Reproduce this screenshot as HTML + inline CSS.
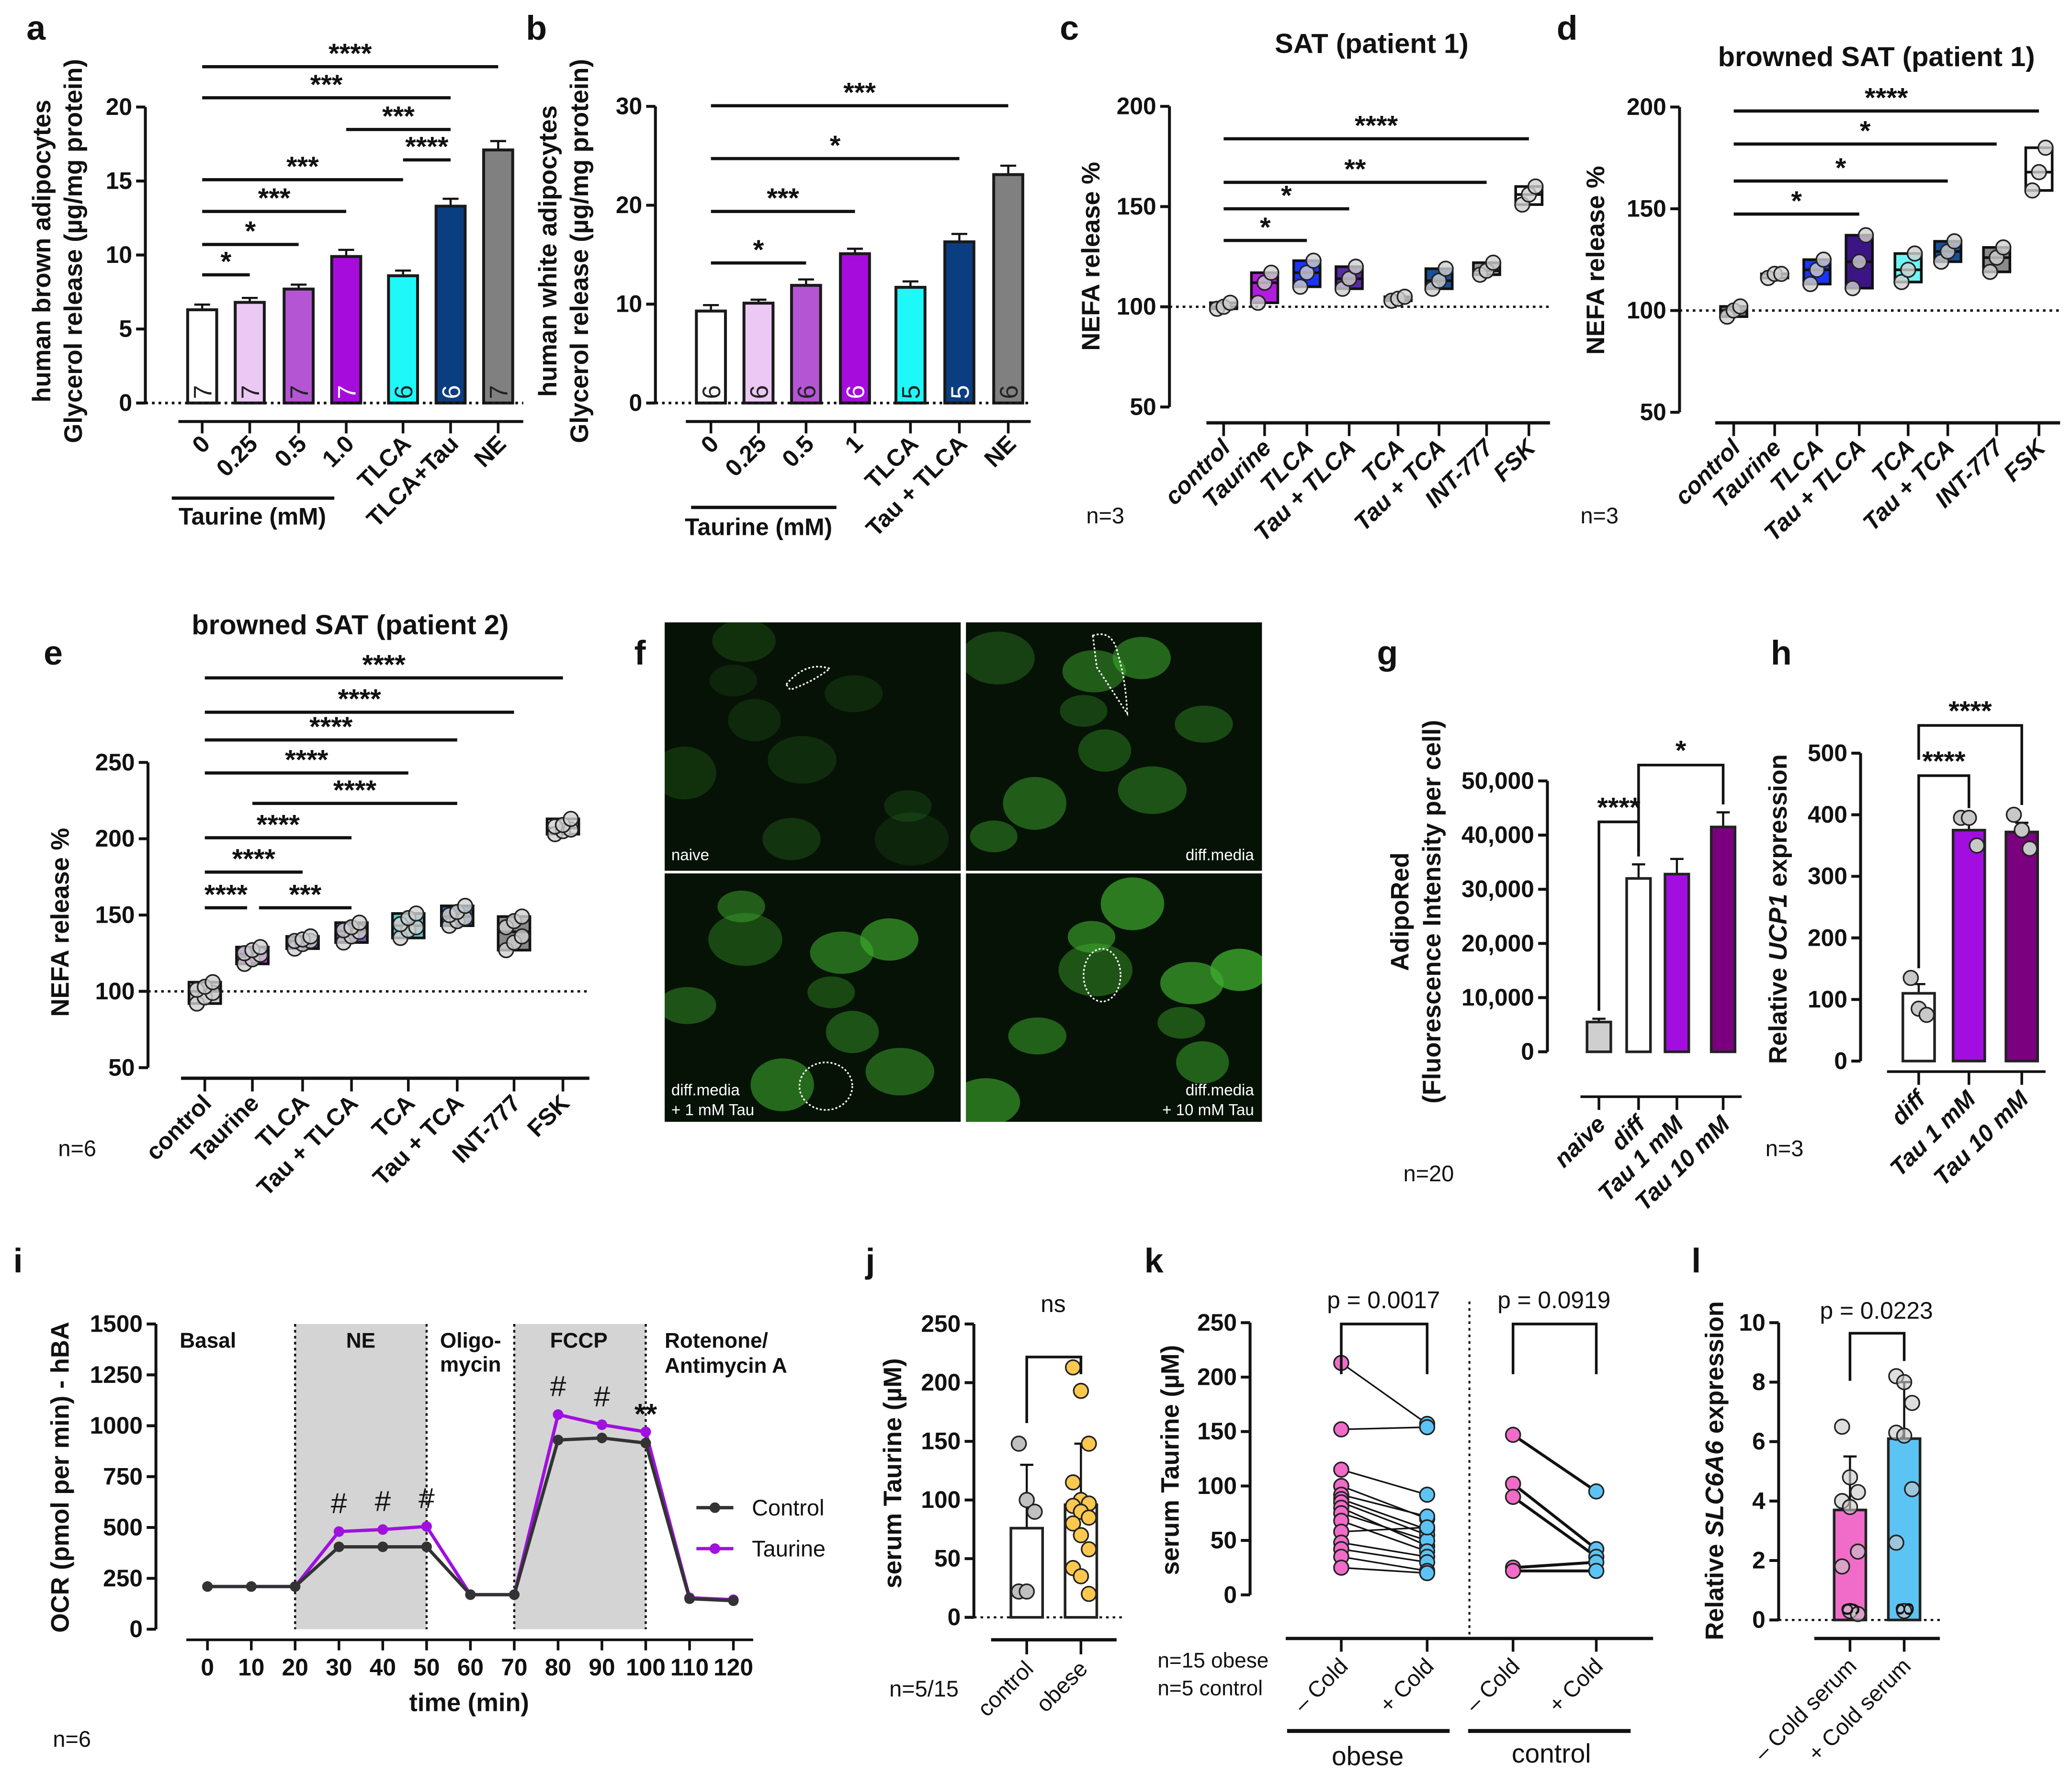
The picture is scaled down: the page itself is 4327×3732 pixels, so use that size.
<!DOCTYPE html>
<html><head><meta charset="utf-8">
<style>
html,body{margin:0;padding:0;background:#fff;}
svg{display:block;font-family:"Liberation Sans",Arial,sans-serif;}
</style></head>
<body>
<svg id="fig" xmlns="http://www.w3.org/2000/svg" width="4327" height="3732" viewBox="0 0 1568 1352.4" preserveAspectRatio="none">
<rect x="0" y="0" width="1568" height="1352.4" fill="#fff"/>
</svg>
<script>
// ---------- data ----------
const aCats=['0','0.25','0.5','1.0','TLCA','TLCA+Tau','NE'];
const aVals=[6.3,6.8,7.7,9.9,8.6,13.3,17.1];
const aErr=[0.35,0.3,0.3,0.45,0.35,0.5,0.6];
const aN=[7,7,7,7,6,6,7];
const aTicks=[0,5,10,15,20];
const bCats=['0','0.25','0.5','1','TLCA','Tau + TLCA','NE'];
const bVals=[9.3,10.1,11.9,15.1,11.7,16.3,23.1];
const bErr=[0.6,0.35,0.6,0.5,0.6,0.8,0.9];
const bN=[6,6,6,6,5,5,6];
const bTicks=[0,10,20,30];
const boxCats=['control','Taurine','TLCA','Tau + TLCA','TCA','Tau + TCA','INT-777','FSK'];
const cPts=[[99,100,102],[102,112,117],[110,117,123],[109,114,120],[103,104,105],[109,113,119],[116,118,122],[151,156,160]];
const dPts=[[97,100,102],[116,118,118],[113,120,125],[111,124,137],[114,120,128],[124,129,134],[119,126,131],[159,168,180]];
const ePts=[[92,96,99,101,103,106],[118,121,124,125,127,129],[128,131,133,133,134,136],[132,136,139,140,142,145],[135,140,142,144,148,151],[143,146,148,150,152,156],[127,132,136,142,146,149],[203,205,206,208,209,213]];
const boxTicks=[50,100,150,200];
const eTicks=[50,100,150,200,250];
const gCats=['naive','diff','Tau 1 mM','Tau 10 mM'];
const gVals=[5500,32000,32800,41500];
const gErr=[600,2600,2800,2700];
const gTicks=[0,10000,20000,30000,40000,50000];
const hCats=['diff','Tau 1 mM','Tau 10 mM'];
const hVals=[110,375,372];
const hErr=[15,15,15];
const hPts=[[135,85,75],[395,395,350],[400,375,345]];
const hTicks=[0,100,200,300,400,500];
const iTimes=[0,10,20,30,40,50,60,70,80,90,100,110,120];
const iControl=[210,210,210,405,405,405,170,170,930,940,915,150,140];
const iTaurine=[210,210,210,480,490,505,170,170,1055,1005,970,155,145];
const iTicks=[0,250,500,750,1000,1250,1500];
const jCats=['control','obese'];
const jVals=[76,96];
const jSD=[130,148];
const jCtrl=[148,100,90,22,22];
const jObese=[213,193,148,115,100,97,95,90,85,80,70,58,42,35,20];
const jTicks=[0,50,100,150,200,250];
const kObMinus=[213,152,115,100,92,88,85,80,75,68,58,48,42,35,25];
const kObPlus=[157,154,92,70,72,60,55,45,50,40,62,35,30,22,20];
const kCtMinus=[147,102,90,25,22];
const kCtPlus=[95,42,35,30,22];
const lCats=['\u2013 Cold serum','+ Cold serum'];
const lVals=[3.7,6.1];
const lSD=[5.5,8.0];
const lMinus=[6.5,4.8,4.3,4.0,3.8,2.3,1.8,0.3,0.2];
const lPlus=[8.2,8.0,7.3,6.3,6.2,4.4,2.6,0.3];
const lTicks=[0,2,4,6,8,10];

// ---------- helpers ----------
const NS='http://www.w3.org/2000/svg';
const svg=document.getElementById('fig');
function mk(tag,attrs,name,parent){
  const e=document.createElementNS(NS,tag);
  for(const k in attrs) e.setAttribute(k,attrs[k]);
  
  
  (parent||svg).appendChild(e);
  return e;
}
function T(x,y,s,o,name){o=o||{};
  const at={x:x,y:y,'font-size':o.s||15,'font-weight':o.w||'bold','text-anchor':o.a||'start',fill:o.f||'#111'};
  if(o.rot!==undefined) at.transform='rotate('+o.rot+' '+x+' '+y+')';
  if(o.it) at['font-style']='italic';
  const e=mk('text',at,name||'label');e.textContent=s;return e;}
function L(x1,y1,x2,y2,o,name){o=o||{};
  const at={x1:x1,y1:y1,x2:x2,y2:y2,stroke:o.c||'#111','stroke-width':o.w||2};
  if(o.d) at['stroke-dasharray']=o.d;
  return mk('line',at,name||'line');}
function lin(d0,d1,r0,r1){return v=>r0+(v-d0)*(r1-r0)/(d1-d0);}
function yAxis(x,sc,ticks,fmt,name,fs){
  L(x,sc(ticks[0]),x,sc(ticks[ticks.length-1]),{w:2.2},name+'-line');
  ticks.forEach(t=>{L(x-7,sc(t),x,sc(t),{w:2.2},name+'-tick');T(x-10,sc(t)+6,fmt?fmt(t):String(t),{a:'end',s:fs||18},name+'-tick-label');});
}
function sig(x1,x2,y,s,name){L(x1,y,x2,y,{w:2.4},name+'-line');T((x1+x2)/2,y-3,s,{a:'middle',s:21},name+'-label');}
function letter(x,y,s){T(x,y,s,{s:26},'panel-'+s+'-letter');}

// ---------- panel a & b (bar charts) ----------
function barPanel(p){
  const ys=lin(0,p.ticks[p.ticks.length-1],p.y0,p.yTop);
  yAxis(p.ax,ys,p.ticks,null,p.id+'-y-axis');
  L(p.xl0,p.xly,p.xl1,p.xly,{w:2.2},p.id+'-x-axis');
  p.vals.forEach((v,i)=>{
    const cx=p.cx[i];
    L(cx,p.xly,cx,p.xly+9,{w:2},p.id+'-x-tick');
    L(cx,ys(v),cx,ys(v+p.err[i]),{w:1.6},p.id+'-error-bar');
    L(cx-6,ys(v+p.err[i]),cx+6,ys(v+p.err[i]),{w:1.6},p.id+'-error-cap');
    mk('rect',{x:cx-11,y:ys(v),width:22,height:ys(0)-ys(v),fill:p.colors[i],stroke:'#1a1a1a','stroke-width':2.2},p.id+'-bar-'+i);
    T(cx+7,ys(0)-3,String(p.n[i]),{s:19,w:'normal',f:p.nc[i],rot:-90},p.id+'-n-label');
    T(cx+7,p.xly+18,p.cats[i],{a:'end',s:18,rot:-45},p.id+'-x-label');
  });
  L(p.ax,ys(0),p.xl1,ys(0),{w:2,d:'2,3'},p.id+'-baseline');
  return ys;
}
letter(20,30,'a');
const cxA=[153,189,226,262,305,341,377];
barPanel({id:'a',ticks:aTicks,y0:305,yTop:81,ax:110,xl0:135,xl1:396,xly:319,vals:aVals,err:aErr,n:aN,cats:aCats,cx:cxA,
 colors:['#fff','#ecc8f4','#b455d4','#a60ddd','#1ff8f8','#0b3e80','#808080'],nc:['#222','#222','#222','#fff','#222','#fff','#222']});
T(38,190,'human brown adipocytes',{s:19,rot:-90,a:'middle'},'a-y-title-1');
T(62,190,'Glycerol release (µg/mg protein)',{s:19,rot:-90,a:'middle'},'a-y-title-2');
L(130,377,253,377,{w:2.5},'a-taurine-group-line');T(191,397,'Taurine (mM)',{s:18,a:'middle'},'a-taurine-group-label');
sig(153,377,50.5,'****','a-sig');sig(153,341,74,'***','a-sig');sig(262,341,98,'***','a-sig');sig(305,341,121,'****','a-sig');
sig(153,305,136,'***','a-sig');sig(153,262,160,'***','a-sig');sig(153,226,185,'*','a-sig');sig(153,189,208,'*','a-sig');

letter(398,30,'b');
barPanel({id:'b',ticks:bTicks,y0:305,yTop:80.5,ax:496,xl0:519,xl1:780,xly:319,vals:bVals,err:bErr,n:bN,cats:bCats,cx:[538,574,610,647,689,726,763],
 colors:['#fff','#ecc8f4','#b455d4','#a60ddd','#1ff8f8','#0b3e80','#808080'],nc:['#222','#222','#222','#fff','#222','#fff','#222']});
T(421,190,'human white adipocytes',{s:19,rot:-90,a:'middle'},'b-y-title-1');
T(445,190,'Glycerol release (µg/mg protein)',{s:19,rot:-90,a:'middle'},'b-y-title-2');
L(523,384,633,384,{w:2.5},'b-taurine-group-line');T(574,405,'Taurine (mM)',{s:18,a:'middle'},'b-taurine-group-label');
sig(538,763,80,'***','b-sig');sig(538,726,120,'*','b-sig');sig(538,647,160,'***','b-sig');sig(538,610,199,'*','b-sig');

// ---------- box panels c, d, e ----------
function boxPanel(p){
  const ys=lin(p.ticks[0],p.ticks[p.ticks.length-1],p.yBot,p.yTop);
  yAxis(p.ax,ys,p.ticks,null,p.id+'-y-axis');
  L(p.xl0,p.xly,p.xl1,p.xly,{w:2.5},p.id+'-x-axis');
  L(p.ax,ys(100),p.xl1,ys(100),{w:1.8,d:'2,3'},p.id+'-100-line');
  p.pts.forEach((arr,i)=>{
    const cx=p.cx[i];const s=arr.slice().sort((a,b)=>a-b);
    const mn=s[0],mx=s[s.length-1],md=s.length%2?s[(s.length-1)/2]:(s[s.length/2-1]+s[s.length/2])/2;
    L(cx,p.xly,cx,p.xly+10,{w:2},p.id+'-x-tick');
    mk('rect',{x:cx-p.bw/2,y:ys(mx),width:p.bw,height:Math.max(ys(mn)-ys(mx),2),fill:p.colors[i],stroke:'#111','stroke-width':2},p.id+'-box-'+i);
    L(cx-p.bw/2,ys(md),cx+p.bw/2,ys(md),{w:2},p.id+'-median');
    arr.forEach((v,k)=>{const off=(k%3-1)*p.jit;
      mk('circle',{cx:cx+off,cy:ys(v),r:5.5,fill:'#cfcfcf','fill-opacity':0.8,stroke:'#222','stroke-width':1.2},p.id+'-point');});
    T(cx+6,p.xly+20,boxCats[i],{a:'end',s:p.ls||18,rot:-45,it:p.it},p.id+'-x-label');
  });
  return ys;
}
letter(802,30,'c');
T(1038,40,'SAT (patient 1)',{s:21,a:'middle'},'c-title');
boxPanel({id:'c',pts:cPts,ticks:boxTicks,yBot:308,yTop:80.5,ax:885,xl0:913,xl1:1173,xly:320,bw:20,jit:5,it:true,
 cx:[926,957,989,1021,1058,1089,1125,1157],colors:['#9a9a9a','#b21be0','#1a34ff','#5a2aa6','#4ee8e8','#17509a','#9a9a9a','#fff']});
T(832,194,'NEFA release %',{s:19,rot:-90,a:'middle'},'c-y-title');
sig(926,1157,105,'****','c-sig');sig(926,1125,138,'**','c-sig');sig(926,1021,158,'*','c-sig');sig(926,989,182,'*','c-sig');
T(822,396,'n=3',{s:17,w:'normal'},'c-n');

letter(1178,30,'d');
T(1420,50,'browned SAT (patient 1)',{s:21,a:'middle'},'d-title');
boxPanel({id:'d',pts:dPts,ticks:boxTicks,yBot:312,yTop:81,ax:1271,xl0:1298,xl1:1559,xly:320,bw:20,jit:5,it:true,
 cx:[1312,1343,1375,1407,1444,1474,1511,1543],colors:['#777','#bdbdbd','#1a34ff','#3b1585','#6ef4f4','#17509a','#8a8a8a','#fff']});
T(1214,197,'NEFA release %',{s:19,rot:-90,a:'middle'},'d-y-title');
sig(1312,1543,84,'****','d-sig');sig(1312,1511,109,'*','d-sig');sig(1312,1474,137,'*','d-sig');sig(1312,1407,162,'*','d-sig');
T(1196,396,'n=3',{s:17,w:'normal'},'d-n');

letter(33,503,'e');
T(265,480,'browned SAT (patient 2)',{s:21,a:'middle'},'e-title');
boxPanel({id:'e',pts:ePts,ticks:eTicks,yBot:808,yTop:577,ax:112,xl0:137,xl1:446,xly:816,bw:24,jit:6,ls:18,
 cx:[155,191,229,266,309,346,389,426],colors:['#c8c8c8','#a23ad0','#3a5fc0','#7a58b0','#58c8c8','#2e68b8','#888','#fff']});
T(52,698,'NEFA release %',{s:19,rot:-90,a:'middle'},'e-y-title');
sig(155,426,513,'****','e-sig');sig(155,389,539,'****','e-sig');sig(155,346,560,'****','e-sig');sig(155,309,585,'****','e-sig');
sig(191,346,608,'****','e-sig');sig(155,266,634,'****','e-sig');sig(155,229,660,'****','e-sig');sig(155,187,687,'****','e-sig');sig(196,266,687,'***','e-sig');
T(44,875,'n=6',{s:17,w:'normal'},'e-n');

// ---------- panel f (microscopy) ----------
letter(480,503,'f');
const quads=[[503,471,'naive','',0.25],[731,471,'diff.media','',0.6],[503,661,'diff.media','+ 1 mM Tau',0.7],[731,661,'diff.media','+ 10 mM Tau',0.85]];
const cellSpots=[[40,30,18,12],[120,40,22,14],[70,90,26,18],[170,100,24,20],[40,150,22,16],[120,150,28,20],[190,60,20,16],[95,125,18,12],[160,160,24,16]];
quads.forEach((q,qi)=>{
  mk('rect',{x:q[0],y:q[1],width:224,height:188,fill:'#061206'},'f-image-'+qi);
  const cl=mk('clipPath',{id:'fq'+qi},'f-clip');
  mk('rect',{x:q[0],y:q[1],width:224,height:188},'f-clip-rect',cl);
  const g=mk('g',{'clip-path':'url(#fq'+qi+')'},'f-cells');
  cellSpots.forEach((c,k)=>{
    mk('ellipse',{cx:q[0]+((c[0]+qi*37+k*11)%200)+12,cy:q[1]+((c[1]+qi*23)%160)+14,rx:c[2],ry:c[3],fill:'#3fae2e','fill-opacity':q[4]*(0.5+0.1*(k%5))},'f-cell',g);
  });
  if(qi===0) T(q[0]+5,q[1]+180,q[2],{s:12,w:'normal',f:'#fff'},'f-label');
  else if(qi===1) T(q[0]+218,q[1]+180,q[2],{s:12,w:'normal',f:'#fff',a:'end'},'f-label');
  else if(qi===2){T(q[0]+5,q[1]+168,q[2],{s:12,w:'normal',f:'#fff'},'f-label');T(q[0]+5,q[1]+183,q[3],{s:12,w:'normal',f:'#fff'},'f-label');}
  else {T(q[0]+218,q[1]+168,q[2],{s:12,w:'normal',f:'#fff',a:'end'},'f-label');T(q[0]+218,q[1]+183,q[3],{s:12,w:'normal',f:'#fff',a:'end'},'f-label');}
});
mk('path',{d:'M595,518 Q610,500 628,506 Q615,516 598,522 Z',fill:'none',stroke:'#fff','stroke-width':1.2,'stroke-dasharray':'1.5,1.5'},'f-outline');
mk('path',{d:'M827,481 Q842,476 846,495 Q852,515 853,540 Q840,520 830,505 Z',fill:'none',stroke:'#fff','stroke-width':1.2,'stroke-dasharray':'1.5,1.5'},'f-outline');
mk('ellipse',{cx:625,cy:822,rx:20,ry:18,fill:'none',stroke:'#fff','stroke-width':1.2,'stroke-dasharray':'1.5,1.5'},'f-outline');
mk('ellipse',{cx:834,cy:738,rx:14,ry:20,fill:'none',stroke:'#fff','stroke-width':1.2,'stroke-dasharray':'1.5,1.5'},'f-outline');

// ---------- panel g ----------
letter(1042,503,'g');
const yg=lin(0,50000,796,591);
yAxis(1171,yg,gTicks,t=>t.toLocaleString('en-US'),'g-y-axis');
L(1196,830,1318,830,{w:2},'g-x-axis');
const gx=[1210,1240,1269,1304];const gCol=['#cfcfcf','#fff','#a20de0','#7a0080'];
gVals.forEach((v,i)=>{
  L(gx[i],830,gx[i],840,{w:2},'g-x-tick');
  L(gx[i],yg(v),gx[i],yg(v+gErr[i]),{w:1.6},'g-error-bar');L(gx[i]-5,yg(v+gErr[i]),gx[i]+5,yg(v+gErr[i]),{w:1.6},'g-error-cap');
  mk('rect',{x:gx[i]-9,y:yg(v),width:18,height:yg(0)-yg(v),fill:gCol[i],stroke:'#222','stroke-width':2},'g-bar-'+i);
  T(gx[i]+6,852,gCats[i],{a:'end',s:18,rot:-45,it:true},'g-x-label');
});
mk('polyline',{points:'1210,'+(yg(gVals[0]+gErr[0])-6)+' 1210,622 1240,622 1240,'+(yg(gVals[1]+gErr[1])-6),fill:'none',stroke:'#111','stroke-width':2},'g-sig-bracket');
T(1225,618,'****',{a:'middle',s:21},'g-sig-label');
mk('polyline',{points:'1240,'+(yg(gVals[1])-20)+' 1240,579 1304,579 1304,'+(yg(gVals[3]+gErr[3])-6),fill:'none',stroke:'#111','stroke-width':2},'g-sig-bracket');
T(1272,575,'*',{a:'middle',s:21},'g-sig-label');
T(1066,690,'AdipoRed',{s:19,rot:-90,a:'middle'},'g-y-title-1');
T(1090,690,'(Fluorescence Intensity per cell)',{s:19,rot:-90,a:'middle'},'g-y-title-2');
T(1062,894,'n=20',{s:17,w:'normal'},'g-n');

// ---------- panel h ----------
letter(1340,503,'h');
const yh=lin(0,500,803,570);
yAxis(1408,yh,hTicks,null,'h-y-axis');
L(1428,811,1548,811,{w:2},'h-x-axis');
const hx=[1452,1490,1530];const hCol=['#fff','#a20de0','#7a0080'];
hVals.forEach((v,i)=>{
  L(hx[i],811,hx[i],821,{w:2},'h-x-tick');
  L(hx[i],yh(v),hx[i],yh(v+hErr[i]),{w:1.6},'h-error-bar');L(hx[i]-5,yh(v+hErr[i]),hx[i]+5,yh(v+hErr[i]),{w:1.6},'h-error-cap');
  mk('rect',{x:hx[i]-12,y:yh(v),width:24,height:yh(0)-yh(v),fill:hCol[i],stroke:'#222','stroke-width':2},'h-bar-'+i);
  hPts[i].forEach((pv,k)=>mk('circle',{cx:hx[i]+(k-1)*6,cy:yh(pv),r:5.5,fill:'#c8c8c8',stroke:'#222','stroke-width':1.2},'h-point'));
  T(hx[i]+6,833,hCats[i],{a:'end',s:18,rot:-45,it:true},'h-x-label');
});
mk('polyline',{points:'1452,'+(yh(140)-5)+' 1452,587 1490,587 1490,'+(yh(400)-5),fill:'none',stroke:'#111','stroke-width':2},'h-sig-bracket');
T(1471,583,'****',{a:'middle',s:21},'h-sig-label');
mk('polyline',{points:'1452,575 1452,549 1530,549 1530,'+(yh(405)-5),fill:'none',stroke:'#111','stroke-width':2},'h-sig-bracket');
T(1491,545,'****',{a:'middle',s:21},'h-sig-label');
const ht=T(1352,688,'Relative ',{s:19,rot:-90,a:'middle'},'h-y-title');
const hts=document.createElementNS(NS,'tspan');hts.setAttribute('font-style','italic');hts.textContent='UCP1';ht.appendChild(hts);
ht.appendChild(document.createTextNode(' expression'));
T(1336,875,'n=3',{s:17,w:'normal'},'h-n');

// ---------- panel i ----------
letter(10,963,'i');
const yi=lin(0,1500,1233,1002);const xi=lin(0,120,157,555);
[[20,50],[70,100]].forEach(r=>mk('rect',{x:xi(r[0]),y:1002,width:xi(r[1])-xi(r[0]),height:1233-1002,fill:'#d4d4d4'},'i-shaded-phase'));
[20,50,70,100].forEach(t=>L(xi(t),1002,xi(t),1233,{w:1.6,d:'2,2.5'},'i-phase-divider'));
yAxis(118,yi,iTicks,null,'i-y-axis');
L(141,1241,570,1241,{w:2},'i-x-axis');
iTimes.forEach(t=>{L(xi(t),1241,xi(t),1249,{w:2},'i-x-tick');T(xi(t),1268,String(t),{a:'middle',s:18},'i-x-tick-label');});
function series(vals,col,name){
  mk('polyline',{points:vals.map((v,k)=>xi(iTimes[k])+','+yi(v)).join(' '),fill:'none',stroke:col,'stroke-width':2.5},name+'-line');
  vals.forEach((v,k)=>mk('circle',{cx:xi(iTimes[k]),cy:yi(v),r:4,fill:col},name+'-point'));
}
series(iTaurine,'#a010e0','i-taurine');
series(iControl,'#333','i-control');
T(136,1020,'Basal',{s:16},'i-phase-label');T(273,1020,'NE',{s:16,a:'middle'},'i-phase-label');
T(333,1020,'Oligo-',{s:16},'i-phase-label');T(333,1038,'mycin',{s:16},'i-phase-label');
T(438,1020,'FCCP',{s:16,a:'middle'},'i-phase-label');
T(503,1020,'Rotenone/',{s:16},'i-phase-label');T(503,1039,'Antimycin A',{s:16},'i-phase-label');
[30,40,50,80,90].forEach(t=>{const k=iTimes.indexOf(t);T(xi(t),yi(iTaurine[k])-14,'#',{a:'middle',s:22,w:'normal'},'i-sig-hash');});
T(xi(100),yi(iTaurine[10])-6,'**',{a:'middle',s:22},'i-sig-star');
L(527,1141,555,1141,{c:'#333',w:2.5},'i-legend-control-line');mk('circle',{cx:541,cy:1141,r:4,fill:'#333'},'i-legend-control-marker');
T(569,1147,'Control',{s:17,w:'normal'},'i-legend-control');
L(527,1172,555,1172,{c:'#a010e0',w:2.5},'i-legend-taurine-line');mk('circle',{cx:541,cy:1172,r:4,fill:'#a010e0'},'i-legend-taurine-marker');
T(569,1178,'Taurine',{s:17,w:'normal'},'i-legend-taurine');
T(355,1295,'time (min)',{s:19,a:'middle'},'i-x-title');
T(52,1118,'OCR (pmol per min) - hBA',{s:19,rot:-90,a:'middle'},'i-y-title');
T(40,1322,'n=6',{s:17,w:'normal'},'i-n');

// ---------- panel j ----------
letter(655,963,'j');
const yj=lin(0,250,1224,1002);
yAxis(737,yj,jTicks,null,'j-y-axis');
L(750,1241,845,1241,{w:2.5},'j-x-axis');
L(737,1224,850,1224,{w:1.6,d:'2,3'},'j-baseline');
const jx=[777,818];const jpts=[jCtrl,jObese];const jcol=['#c0c0c0','#fcc850'];
jVals.forEach((v,i)=>{
  L(jx[i],1241,jx[i],1252,{w:2},'j-x-tick');
  L(jx[i],yj(v),jx[i],yj(jSD[i]),{w:1.6},'j-error-bar');L(jx[i]-5,yj(jSD[i]),jx[i]+5,yj(jSD[i]),{w:1.6},'j-error-cap');
  mk('rect',{x:jx[i]-12,y:yj(v),width:24,height:yj(0)-yj(v),fill:'#fff',stroke:'#222','stroke-width':2},'j-bar-'+i);
  jpts[i].forEach((pv,k)=>mk('circle',{cx:jx[i]+((k%3)-1)*6,cy:yj(pv),r:5.5,fill:jcol[i],stroke:'#222','stroke-width':1.2},'j-point'));
  T(jx[i]+6,1264,jCats[i],{a:'end',s:17,w:'normal',rot:-45},'j-x-label');
});
mk('polyline',{points:'777,1077 777,1027 818,1027 818,1040',fill:'none',stroke:'#111','stroke-width':2},'j-sig-bracket');
T(797,993,'ns',{a:'middle',s:18,w:'normal'},'j-sig-label');
T(682,1115,'serum Taurine (µM)',{s:19,rot:-90,a:'middle'},'j-y-title');
T(673,1284,'n=5/15',{s:17,w:'normal'},'j-n');

// ---------- panel k ----------
letter(866,963,'k');
const yk=lin(0,250,1207,1001);
yAxis(946,yk,jTicks,null,'k-y-axis');
L(973,1240,1251,1240,{w:2.5},'k-x-axis');
L(1112,985,1112,1240,{w:1.5,d:'2,3'},'k-group-divider');
const kx=[1015,1080,1145,1208];
function pairs(a,b,x1,x2,w,name){
  a.forEach((v,k)=>L(x1,yk(v),x2,yk(b[k]),{w:w},name+'-pair-line'));
  a.forEach(v=>mk('circle',{cx:x1,cy:yk(v),r:5.5,fill:'#f06cc8',stroke:'#222','stroke-width':1.2},name+'-minus-point'));
  b.forEach(v=>mk('circle',{cx:x2,cy:yk(v),r:5.5,fill:'#5cc4f4',stroke:'#222','stroke-width':1.2},name+'-plus-point'));
}
pairs(kObMinus,kObPlus,kx[0],kx[1],1.2,'k-obese');
pairs(kCtMinus,kCtPlus,kx[2],kx[3],2.2,'k-control');
['\u2013 Cold','+ Cold','\u2013 Cold','+ Cold'].forEach((s,i)=>{L(kx[i],1240,kx[i],1250,{w:2},'k-x-tick');T(kx[i]+6,1262,s,{a:'end',s:17,w:'normal',rot:-45},'k-x-label');});
L(974,1310,1097,1310,{w:3},'k-obese-group-line');L(1111,1310,1234,1310,{w:3},'k-control-group-line');
T(1035,1336,'obese',{s:20,w:'normal',a:'middle'},'k-obese-group-label');T(1174,1334,'control',{s:20,w:'normal',a:'middle'},'k-control-group-label');
mk('polyline',{points:'1015,1040 1015,1002 1080,1002 1080,1040',fill:'none',stroke:'#111','stroke-width':2},'k-sig-bracket');
T(1047,990,'p = 0.0017',{a:'middle',s:18,w:'normal'},'k-sig-label');
mk('polyline',{points:'1145,1040 1145,1002 1208,1002 1208,1040',fill:'none',stroke:'#111','stroke-width':2},'k-sig-bracket');
T(1176,990,'p = 0.0919',{a:'middle',s:18,w:'normal'},'k-sig-label');
T(892,1105,'serum Taurine (µM)',{s:19,rot:-90,a:'middle'},'k-y-title');
T(876,1262,'n=15 obese',{s:16,w:'normal'},'k-n-obese');T(876,1283,'n=5 control',{s:16,w:'normal'},'k-n-control');

// ---------- panel l ----------
letter(1280,963,'l');
const yl=lin(0,10,1226,1001);
yAxis(1346,yl,lTicks,null,'l-y-axis');
L(1373,1240,1468,1240,{w:2.5},'l-x-axis');
L(1346,1226,1470,1226,{w:1.6,d:'2,3'},'l-baseline');
const lx=[1400,1441];const lcol=['#f06cc8','#5cc4f4'];const lpts=[lMinus,lPlus];
lVals.forEach((v,i)=>{
  L(lx[i],1240,lx[i],1250,{w:2},'l-x-tick');
  mk('rect',{x:lx[i]-12,y:yl(v),width:24,height:yl(0)-yl(v),fill:lcol[i],stroke:'#222','stroke-width':2},'l-bar-'+i);
  L(lx[i],yl(v),lx[i],yl(lSD[i]),{w:1.6},'l-error-bar');L(lx[i]-5,yl(lSD[i]),lx[i]+5,yl(lSD[i]),{w:1.6},'l-error-cap');
  lpts[i].forEach((pv,k)=>mk('circle',{cx:lx[i]+((k%3)-1)*6,cy:yl(pv),r:5.5,fill:'#c8c8c8','fill-opacity':0.6,stroke:'#222','stroke-width':1.2},'l-point'));
  T(lx[i]+7,yl(0)-3,String(lpts[i].length),{s:19,w:'normal',rot:-90},'l-n-label');
  T(lx[i]+6,1262,lCats[i],{a:'end',s:17,w:'normal',rot:-45},'l-x-label');
});
mk('polyline',{points:'1400,1045 1400,1009 1441,1009 1441,1030',fill:'none',stroke:'#111','stroke-width':2},'l-sig-bracket');
T(1420,998,'p = 0.0223',{a:'middle',s:18,w:'normal'},'l-sig-label');
const lt=T(1304,1113,'Relative ',{s:19,rot:-90,a:'middle'},'l-y-title');
const lts=document.createElementNS(NS,'tspan');lts.setAttribute('font-style','italic');lts.textContent='SLC6A6';lt.appendChild(lts);
lt.appendChild(document.createTextNode(' expression'));
</script>
</body></html>
